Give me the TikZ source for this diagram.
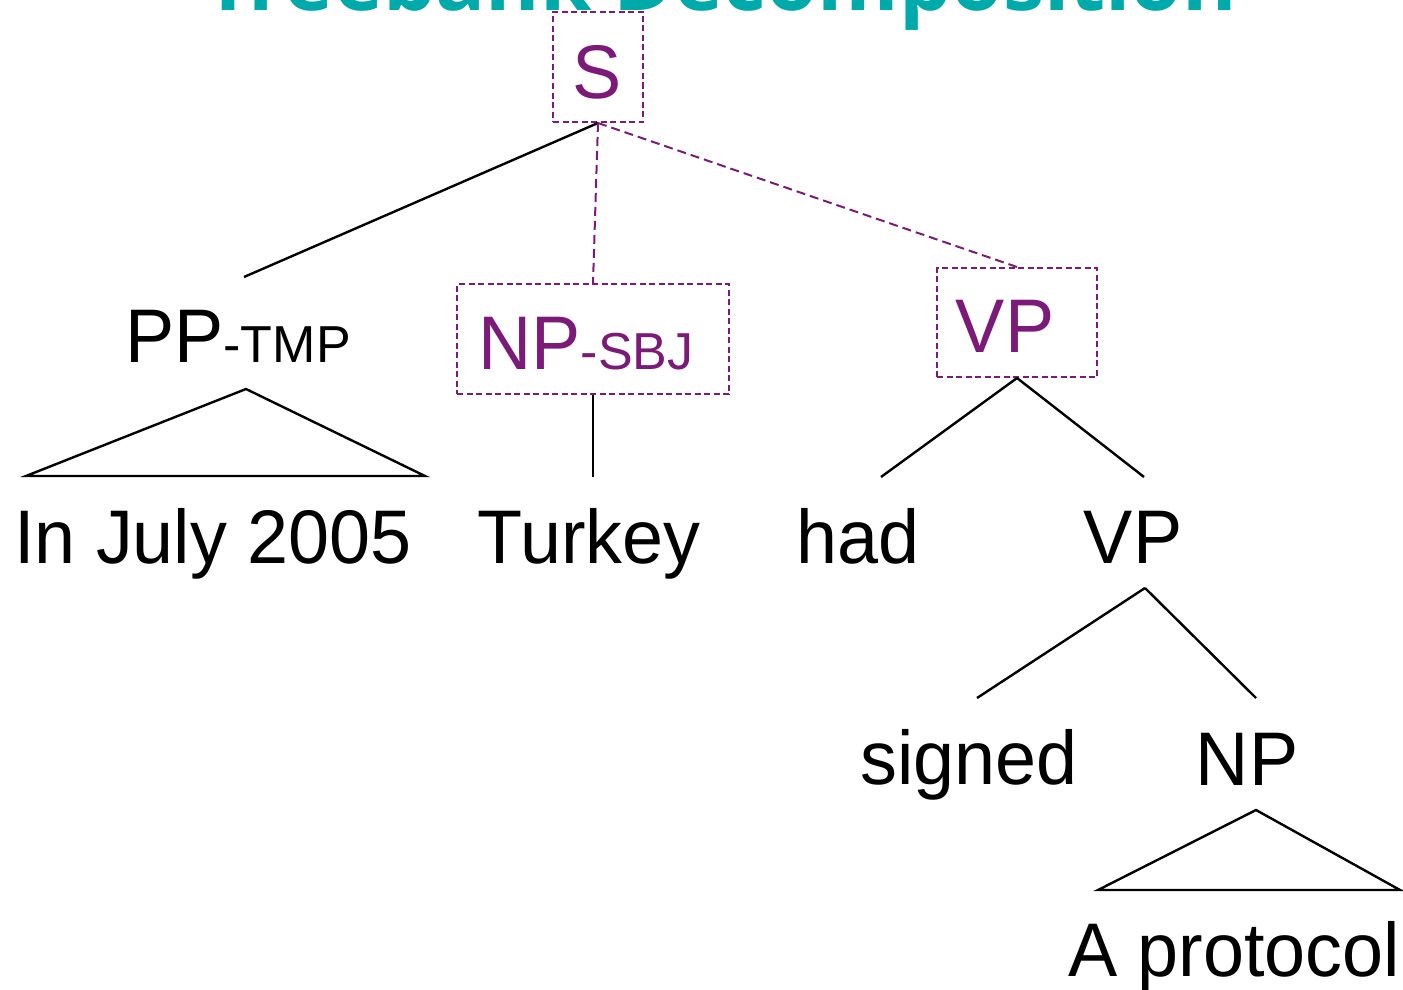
\documentclass[tikz,border=0pt]{standalone}
\usepackage{fontspec}
\setmainfont[FakeStretch=0.97]{Liberation Sans}
\newfontfamily\subfont{Liberation Sans}
\newfontfamily\titlefont{Open Sans}
\definecolor{tpurple}{HTML}{7B1A78}
\definecolor{tteal}{HTML}{00A9AA}
\begin{document}
\begin{tikzpicture}[x=1pt,y=-1pt,
  lbl/.style={inner sep=0pt,anchor=base,font=\fontsize{76}{80}\selectfont},
  hlbl/.style={lbl,text=tpurple},
  dbox/.style={draw=tpurple,line width=2pt,dash pattern=on 6pt off 3.5pt,inner sep=0pt},
  edge/.style={draw=black,line width=2.4pt},
  dedge/.style={draw=tpurple,line width=2pt,dash pattern=on 9pt off 5pt}]
\newcommand\subtxt[1]{{\subfont\fontsize{52}{56}\selectfont #1}}
\useasboundingbox (0,0) rectangle (1403,990);
\clip (0,0) rectangle (1403,990);
% title (clipped at top)
\node[inner sep=0pt,anchor=base,text=tteal,font=\titlefont\bfseries\fontsize{83}{90}\selectfont] (title) at (721,11) {Treebank Decomposition};
% boxes
\node[dbox,minimum width=90pt,minimum height=110pt] (sbox) at (598,67) {};
\node[dbox,minimum width=272pt,minimum height=110pt] (npbox) at (593,339) {};
\node[dbox,minimum width=160pt,minimum height=109pt] (vpbox) at (1017,322.5) {};
% labels
\node[hlbl] (s) at (597,98) {S};
\node[lbl] (pp) at (238,362) {PP\subtxt{-TMP}};
\node[hlbl] (npsbj) at (586,369) {NP\subtxt{-SBJ}};
\node[hlbl] (vp1) at (1005,352) {VP};
\node[lbl] (july) at (213,563) {In July 2005};
\node[lbl] (turkey) at (589,563) {Turkey};
\node[lbl] (had) at (858,563) {had};
\node[lbl] (vp2) at (1133,563) {VP};
\node[lbl] (signed) at (969,784) {signed};
\node[lbl] (np) at (1247,785) {NP};
\node[lbl] (prot) at (1234,976) {A protocol};
% connector end points
\coordinate (ppt) at (244,277);
\coordinate (ppa) at (246,389);
\coordinate (ppl) at (26,476);
\coordinate (ppr) at (425,476);
\coordinate (turt) at (593,477);
\coordinate (hadt) at (881,477);
\coordinate (vp2t) at (1144,477);
\coordinate (vp2b) at (1145,588);
\coordinate (signt) at (977,698);
\coordinate (npt) at (1256,698);
\coordinate (npa) at (1256,810);
\coordinate (npl) at (1098,890);
\coordinate (npr) at (1400,890);
% edges
\draw[edge] (sbox.south) -- (ppt);
\draw[dedge] (sbox.south) -- (npbox.north);
\draw[dedge] (sbox.south) -- (vpbox.north);
\draw[edge,line join=miter] (ppl) -- (ppa) -- (ppr) -- cycle;
\draw[edge] (npbox.south) -- (turt);
\draw[edge] (vpbox.south) -- (hadt);
\draw[edge] (vpbox.south) -- (vp2t);
\draw[edge] (vp2b) -- (signt);
\draw[edge] (vp2b) -- (npt);
\draw[edge] (npl) -- (npa) -- (npr) -- cycle;
\end{tikzpicture}
\end{document}
